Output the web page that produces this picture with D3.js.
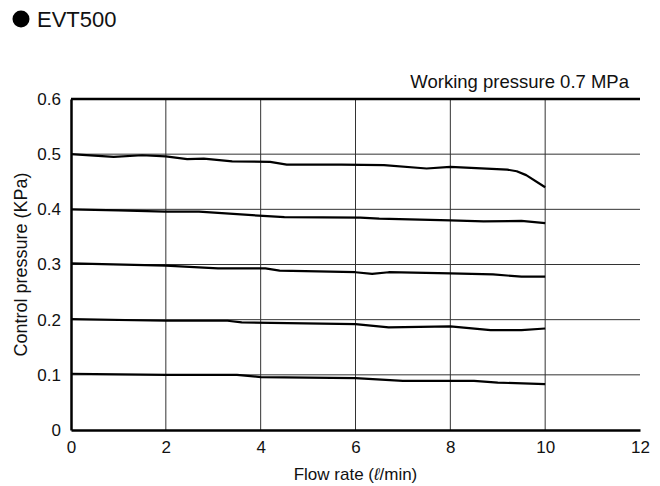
<!DOCTYPE html>
<html lang="en">
<head>
	<meta charset="utf-8">
	<title>EVT500</title>
	<style>
		body {
			margin: 0;
			background: #fff;
			font-family: "Liberation Sans", Arial, sans-serif;
		}
		.grid line {
			stroke: #333;
			stroke-width: 1px;
		}
		.tick text {
			font-size: 17px;
			font-family: "Liberation Sans", Arial, sans-serif;
			fill: #111;
		}
	</style>
</head>
<body>
	<svg></svg>
	<script src="https://d3js.org/d3.v7.min.js"></script>
	<script>
		// flow rate (l/min) against control pressure (kPa), one series per set pressure
		var xTicks = [0, 2, 4, 6, 8, 10, 12];
		var yTicks = [0, 0.1, 0.2, 0.3, 0.4, 0.5, 0.6];

		var flow05 = [0, 0.9, 1.5, 2, 2.45, 2.8, 3.4, 4.2, 4.55, 5.7, 6.6, 7.5, 8, 9.2, 9.4, 9.6, 10];
		var press05 = [0.5, 0.495, 0.498, 0.496, 0.491, 0.492, 0.487, 0.486, 0.481, 0.481, 0.480, 0.474, 0.477, 0.472, 0.469, 0.462, 0.44];

		var flow04 = [0, 1, 2, 2.7, 4.05, 4.5, 6.1, 6.5, 8, 8.7, 9.5, 10];
		var press04 = [0.4, 0.398, 0.396, 0.396, 0.388, 0.386, 0.385, 0.383, 0.380, 0.378, 0.379, 0.375];

		var flow03 = [0, 2, 3.1, 4.1, 4.4, 6, 6.35, 6.7, 8, 8.9, 9.5, 10];
		var press03 = [0.302, 0.298, 0.293, 0.293, 0.289, 0.286, 0.283, 0.286, 0.284, 0.282, 0.278, 0.278];

		var flow02 = [0, 2, 3.3, 3.6, 6, 6.7, 8, 8.85, 9.5, 10];
		var press02 = [0.201, 0.198, 0.198, 0.195, 0.192, 0.186, 0.188, 0.181, 0.181, 0.184];

		var flow01 = [0, 2, 3.5, 4, 6, 7, 8.5, 9, 10];
		var press01 = [0.102, 0.1, 0.1, 0.096, 0.094, 0.089, 0.089, 0.086, 0.083];

		var series = [
			[flow05, press05],
			[flow04, press04],
			[flow03, press03],
			[flow02, press02],
			[flow01, press01]
		];

		var width = 660,
			height = 486;

		var svg = d3.select("svg")
			.attr("width", width)
			.attr("height", height);

		var x = d3.scaleLinear().domain([0, 12]).range([71, 640]);
		var y = d3.scaleLinear().domain([0, 0.6]).range([430, 99]);

		// title
		svg.append("circle")
			.attr("cx", 21)
			.attr("cy", 19)
			.attr("r", 8.5)
			.attr("fill", "#000");
		svg.append("text")
			.attr("x", 37)
			.attr("y", 27)
			.attr("font-size", "22px")
			.attr("fill", "#111")
			.text("EVT500");

		svg.append("text")
			.attr("x", 629)
			.attr("y", 88)
			.attr("text-anchor", "end")
			.attr("font-size", "18.5px")
			.attr("fill", "#111")
			.text("Working pressure 0.7 MPa");

		// grid
		var grid = svg.append("g").attr("class", "grid");
		grid.selectAll("line.v")
			.data(xTicks.filter(function(d) { return d > 0 && d < 12; }))
			.enter().append("line")
			.attr("class", "v")
			.attr("x1", function(d) { return x(d); })
			.attr("x2", function(d) { return x(d); })
			.attr("y1", y(0.6))
			.attr("y2", y(0));
		grid.selectAll("line.h")
			.data(yTicks.filter(function(d) { return d > 0 && d < 0.6; }))
			.enter().append("line")
			.attr("class", "h")
			.attr("x1", x(0))
			.attr("x2", x(12))
			.attr("y1", function(d) { return y(d); })
			.attr("y2", function(d) { return y(d); });

		// axes
		var xAxis = svg.append("g")
			.attr("transform", "translate(0," + y(0) + ")")
			.call(d3.axisBottom(x).tickValues(xTicks).tickSize(0).tickPadding(11));
		xAxis.select(".domain").attr("stroke", "#000").attr("stroke-width", 2.5);

		var yAxis = svg.append("g")
			.attr("transform", "translate(" + x(0) + ",0)")
			.call(d3.axisLeft(y).tickValues(yTicks).tickSize(0).tickPadding(10)
				.tickFormat(function(d) { return d === 0 ? "0" : d3.format(".1f")(d); }));
		yAxis.select(".domain").attr("stroke", "#000").attr("stroke-width", 2.5);

		svg.append("line")
			.attr("x1", x(0))
			.attr("x2", x(12))
			.attr("y1", y(0.6))
			.attr("y2", y(0.6))
			.attr("stroke", "#000")
			.attr("stroke-width", 2.5);

		// data lines
		var line = d3.line()
			.x(function(d) { return x(d[0]); })
			.y(function(d) { return y(d[1]); });

		svg.append("g")
			.selectAll("path")
			.data(series)
			.enter().append("path")
			.attr("d", function(s) {
				return line(s[0].map(function(f, i) { return [f, s[1][i]]; }));
			})
			.attr("fill", "none")
			.attr("stroke", "#000")
			.attr("stroke-width", 2.2)
			.attr("stroke-linejoin", "round");

		// axis titles
		var xTitle = svg.append("text")
			.attr("x", x(6))
			.attr("y", 480)
			.attr("text-anchor", "middle")
			.attr("font-size", "17px")
			.attr("fill", "#111");
		xTitle.append("tspan").text("Flow rate (");
		xTitle.append("tspan").attr("font-style", "italic").text("\u2113");
		xTitle.append("tspan").text("/min)");

		svg.append("text")
			.attr("transform", "translate(27," + y(0.3) + ") rotate(-90)")
			.attr("text-anchor", "middle")
			.attr("font-size", "18px")
			.attr("fill", "#111")
			.text("Control pressure (KPa)");
	</script>
</body>
</html>
